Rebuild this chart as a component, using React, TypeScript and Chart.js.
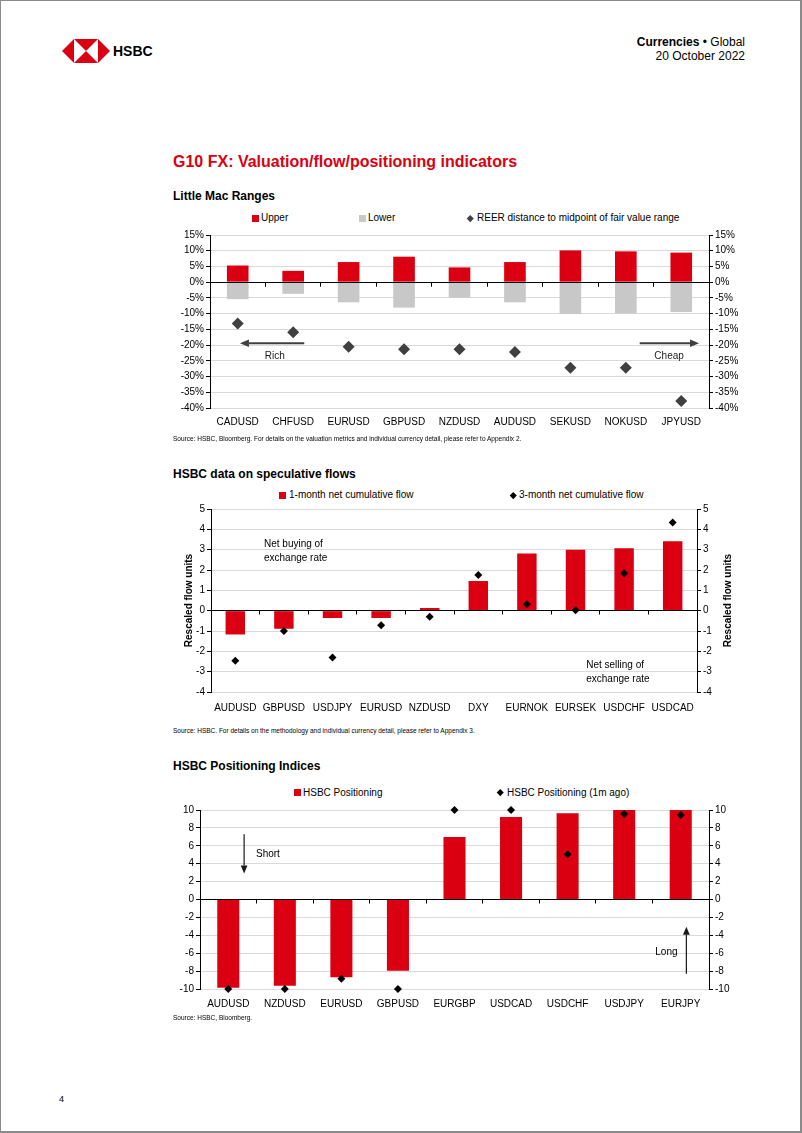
import React, { useEffect, useRef } from 'react';
import { Chart, registerables } from 'chart.js';

Chart.register(...registerables);

const FONT = "'Liberation Sans', Arial, Helvetica, sans-serif";
const RED = '#DB0011';
const GREY_BAR = '#C8C8C8';
const GRID = '#D9D9D9';

// ---------- Chart 1: Little Mac Ranges ----------
const macCategories = ['CADUSD', 'CHFUSD', 'EURUSD', 'GBPUSD', 'NZDUSD', 'AUDUSD', 'SEKUSD', 'NOKUSD', 'JPYUSD'];
const macUpper = [5.3, 3.6, 6.4, 8.1, 4.7, 6.4, 10.1, 9.8, 9.4];
const macLower = [-5.4, -3.7, -6.4, -8.1, -4.9, -6.4, -10.1, -9.9, -9.5];
const macReer = [-13.1, -15.9, -20.5, -21.3, -21.3, -22.2, -27.2, -27.2, -37.8];
const macSeries = ['Upper', 'Lower', 'REER distance to midpoint of fair value range'];
const macAxis = { min: -40, max: 15, step: 5 };

// ---------- Chart 2: speculative flows ----------
const flowCategories = ['AUDUSD', 'GBPUSD', 'USDJPY', 'EURUSD', 'NZDUSD', 'DXY', 'EURNOK', 'EURSEK', 'USDCHF', 'USDCAD'];
const flow1m = [-1.17, -0.89, -0.36, -0.36, 0.13, 1.46, 2.81, 2.99, 3.07, 3.42];
const flow3m = [-2.46, -1.0, -2.3, -0.72, -0.3, 1.76, 0.31, 0.02, 1.84, 4.33];
const flowSeries = ['1-month net cumulative flow', '3-month net cumulative flow'];
const flowAxis = { min: -4, max: 5, step: 1 };

// ---------- Chart 3: positioning ----------
const posCategories = ['AUDUSD', 'NZDUSD', 'EURUSD', 'GBPUSD', 'EURGBP', 'USDCAD', 'USDCHF', 'USDJPY', 'EURJPY'];
const posNow = [-9.85, -9.63, -8.7, -7.96, 6.99, 9.22, 9.63, 10, 10];
const pos1m = [-10, -10, -8.85, -10, 10, 10, 5.06, 9.55, 9.44];
const posSeries = ['HSBC Positioning', 'HSBC Positioning (1m ago)'];
const posAxis = { min: -10, max: 10, step: 2 };

type Ann =
  | { kind: 'arrow'; x1: number; y1: number; x2: number; y2: number; color: string; width: number; head: number }
  | { kind: 'text'; x: number; y: number; text: string; align: CanvasTextAlign; color: string };

const al = (p: number) => Math.round(p - 0.5) + 0.5;

function overlayPlugin(anns: Ann[], axisTitle?: string) {
  return {
    id: 'overlay',
    afterDatasetDraw(chart: any, args: any) {
      if (args.meta.type !== 'bar') return;
      const { ctx, chartArea } = chart;
      const xs = chart.scales.x;
      const ys = chart.scales.y;
      const y0 = al(ys.getPixelForValue(0));
      ctx.save();
      ctx.strokeStyle = '#000';
      ctx.lineWidth = 1;
      ctx.beginPath();
      ctx.moveTo(chartArea.left, y0);
      ctx.lineTo(chartArea.right, y0);
      const n = chart.data.labels.length;
      for (let i = 1; i < n; i++) {
        const px = al(xs.getPixelForValue(i - 0.5));
        ctx.moveTo(px, y0);
        ctx.lineTo(px, y0 + 4);
      }
      ctx.stroke();
      ctx.restore();
    },
    afterDatasetsDraw(chart: any) {
      const { ctx, chartArea } = chart;
      const xs = chart.scales.x;
      const ys = chart.scales.y;
      ctx.save();
      for (const a of anns) {
        if (a.kind === 'arrow') {
          const x1 = xs.getPixelForValue(a.x1), y1 = ys.getPixelForValue(a.y1);
          const x2 = xs.getPixelForValue(a.x2), y2 = ys.getPixelForValue(a.y2);
          const ang = Math.atan2(y2 - y1, x2 - x1);
          const hl = a.head, hw = a.head * 0.42;
          const bx = x2 - Math.cos(ang) * hl, by = y2 - Math.sin(ang) * hl;
          ctx.strokeStyle = a.color;
          ctx.fillStyle = a.color;
          ctx.lineWidth = a.width;
          ctx.beginPath();
          ctx.moveTo(x1, y1);
          ctx.lineTo(bx, by);
          ctx.stroke();
          ctx.beginPath();
          ctx.moveTo(x2, y2);
          ctx.lineTo(bx + Math.sin(ang) * hw, by - Math.cos(ang) * hw);
          ctx.lineTo(bx - Math.sin(ang) * hw, by + Math.cos(ang) * hw);
          ctx.closePath();
          ctx.fill();
        } else {
          ctx.fillStyle = a.color;
          ctx.font = `10px ${FONT}`;
          ctx.textAlign = a.align;
          ctx.textBaseline = 'middle';
          ctx.fillText(a.text, xs.getPixelForValue(a.x), ys.getPixelForValue(a.y));
        }
      }
      if (axisTitle) {
        ctx.font = `bold 10px ${FONT}`;
        ctx.fillStyle = '#000';
        ctx.textAlign = 'center';
        ctx.textBaseline = 'middle';
        const cy = (chartArea.top + chartArea.bottom) / 2;
        for (const cx of [chartArea.left - 22, chartArea.right + 31]) {
          ctx.save();
          ctx.translate(cx, cy);
          ctx.rotate(-Math.PI / 2);
          ctx.fillText(axisTitle, 0, 0);
          ctx.restore();
        }
      }
      ctx.restore();
    },
  };
}

function yScale(axis: { min: number; max: number; step: number }, position: 'left' | 'right', width: number, showGrid: boolean, fmt: (v: number) => string) {
  return {
    type: 'linear',
    position,
    min: axis.min,
    max: axis.max,
    afterFit: (s: any) => { s.width = width; },
    ticks: {
      stepSize: axis.step,
      color: '#000',
      font: { size: 10, family: FONT },
      padding: 2,
      callback: (v: any) => fmt(Number(v)),
    },
    grid: {
      display: true,
      drawOnChartArea: showGrid,
      drawTicks: true,
      tickLength: 4,
      tickColor: '#000',
      lineWidth: 1,
      color: (c: any) => (c.tick && c.tick.value === 0 ? '#000' : GRID),
    },
    border: { display: true, color: '#000', width: 1 },
  };
}

function xScale(height: number, pad: number) {
  return {
    type: 'category',
    offset: true,
    afterFit: (s: any) => { s.height = height; },
    grid: { display: false, drawTicks: false },
    border: { display: false },
    ticks: { color: '#000', font: { size: 10, family: FONT }, padding: pad, maxRotation: 0, autoSkip: false },
  };
}

function baseOptions(padTop: number, scales: any) {
  return {
    responsive: false,
    animation: false,
    events: [],
    layout: { padding: { top: padTop, left: 0, right: 0, bottom: 0 } },
    plugins: { legend: { display: false }, tooltip: { enabled: false } },
    scales,
  };
}

const pct = (v: number) => `${v}%`;
const num = (v: number) => `${v}`;

function useChart(ref: React.RefObject<HTMLCanvasElement>, build: () => any) {
  useEffect(() => {
    if (!ref.current) return;
    const chart = new Chart(ref.current, build());
    return () => chart.destroy();
  }, []);
}

const Txt = ({ x, y, size = 10, bold = false, color = '#000', align = 'left', children }: any) => {
  const tx = align === 'left' ? '0' : align === 'right' ? '-100%' : '-50%';
  return (
    <div
      style={{
        position: 'absolute',
        left: x,
        top: y,
        transform: `translate(${tx}, -50%)`,
        fontFamily: FONT,
        fontSize: size,
        fontWeight: bold ? 700 : 400,
        color,
        whiteSpace: 'nowrap',
        lineHeight: 1.15,
      }}
    >
      {children}
    </div>
  );
};

const Sq = ({ cx, cy, color, size = 7 }: any) => (
  <div style={{ position: 'absolute', left: cx - size / 2, top: cy - size / 2, width: size, height: size, background: color }} />
);
const Dm = ({ cx, cy, color, size = 4.5 }: any) => (
  <div style={{ position: 'absolute', left: cx - size / 2, top: cy - size / 2, width: size, height: size, background: color, transform: 'rotate(45deg)' }} />
);

export default function App() {
  const c1 = useRef<HTMLCanvasElement>(null);
  const c2 = useRef<HTMLCanvasElement>(null);
  const c3 = useRef<HTMLCanvasElement>(null);

  useChart(c1, () => ({
    type: 'bar',
    data: {
      labels: macCategories,
      datasets: [
        { type: 'line', label: macSeries[2], data: macReer, showLine: false, pointStyle: 'rectRot', pointRadius: 6, pointHoverRadius: 6, pointBackgroundColor: '#404040', pointBorderWidth: 0, borderColor: '#404040', backgroundColor: '#404040', order: 0, clip: false },
        { type: 'bar', label: macSeries[0], data: macUpper, backgroundColor: RED, grouped: false, barPercentage: 0.39, categoryPercentage: 1, order: 1 },
        { type: 'bar', label: macSeries[1], data: macLower, backgroundColor: GREY_BAR, grouped: false, barPercentage: 0.39, categoryPercentage: 1, order: 1 },
      ],
    },
    options: baseOptions(9, {
      x: xScale(28, 8),
      y: yScale(macAxis, 'left', 49, true, pct),
      y2: yScale(macAxis, 'right', 32, false, pct),
    }),
    plugins: [
      overlayPlugin([
        { kind: 'arrow', x1: 1.2, y1: -19.4, x2: 0.04, y2: -19.4, color: '#404040', width: 2, head: 9 },
        { kind: 'text', x: 0.67, y: -23.5, text: 'Rich', align: 'center', color: '#1a1a1a' },
        { kind: 'arrow', x1: 7.25, y1: -19.4, x2: 8.32, y2: -19.4, color: '#404040', width: 2, head: 9 },
        { kind: 'text', x: 7.78, y: -23.4, text: 'Cheap', align: 'center', color: '#1a1a1a' },
      ]),
    ],
  }));

  useChart(c2, () => ({
    type: 'bar',
    data: {
      labels: flowCategories,
      datasets: [
        { type: 'line', label: flowSeries[1], data: flow3m, showLine: false, pointStyle: 'rectRot', pointRadius: 4, pointHoverRadius: 4, pointBackgroundColor: '#000', pointBorderWidth: 0, borderColor: '#000', backgroundColor: '#000', order: 0, clip: false },
        { type: 'bar', label: flowSeries[0], data: flow1m, backgroundColor: RED, barPercentage: 0.4, categoryPercentage: 1, order: 1 },
      ],
    },
    options: baseOptions(8, {
      x: xScale(24, 10),
      y: yScale(flowAxis, 'left', 50, true, num),
      y2: yScale(flowAxis, 'right', 44, false, num),
    }),
    plugins: [
      overlayPlugin(
        [
          { kind: 'text', x: 0.59, y: 3.27, text: 'Net buying of', align: 'left', color: '#000' },
          { kind: 'text', x: 0.59, y: 2.58, text: 'exchange rate', align: 'left', color: '#000' },
          { kind: 'text', x: 7.22, y: -2.7, text: 'Net selling of', align: 'left', color: '#000' },
          { kind: 'text', x: 7.22, y: -3.38, text: 'exchange rate', align: 'left', color: '#000' },
        ],
        'Rescaled flow units'
      ),
    ],
  }));

  useChart(c3, () => ({
    type: 'bar',
    data: {
      labels: posCategories,
      datasets: [
        { type: 'line', label: posSeries[1], data: pos1m, showLine: false, pointStyle: 'rectRot', pointRadius: 4, pointHoverRadius: 4, pointBackgroundColor: '#000', pointBorderWidth: 0, borderColor: '#000', backgroundColor: '#000', order: 0, clip: false },
        { type: 'bar', label: posSeries[0], data: posNow, backgroundColor: RED, barPercentage: 0.39, categoryPercentage: 1, order: 1 },
      ],
    },
    options: baseOptions(9, {
      x: xScale(27, 9),
      y: yScale(posAxis, 'left', 39, true, num),
      y2: yScale(posAxis, 'right', 32, false, num),
    }),
    plugins: [
      overlayPlugin([
        { kind: 'arrow', x1: 0.28, y1: 7.3, x2: 0.28, y2: 2.9, color: '#1a1a1a', width: 1.2, head: 8 },
        { kind: 'text', x: 0.49, y: 5.1, text: 'Short', align: 'left', color: '#000' },
        { kind: 'arrow', x1: 8.1, y1: -8.3, x2: 8.1, y2: -3.05, color: '#1a1a1a', width: 1.2, head: 8 },
        { kind: 'text', x: 7.55, y: -5.85, text: 'Long', align: 'left', color: '#000' },
      ]),
    ],
  }));

  return (
    <div
      style={{
        position: 'absolute',
        left: 0,
        top: 0,
        width: 802,
        height: 1133,
        boxSizing: 'border-box',
        borderLeft: '1px solid #8a8a8a',
        borderTop: '1px solid #8a8a8a',
        borderRight: '2px solid #8a8a8a',
        borderBottom: '2px solid #8a8a8a',
        background: '#fff',
        overflow: 'hidden',
      }}
    >
      <div style={{ position: 'absolute', left: 0, top: 0, width: 802, height: 1133 }}>
        {/* header */}
        <svg style={{ position: 'absolute', left: 61, top: 38 }} width={48} height={24} viewBox="0 0 48 24">
          <polygon points="0,12 12,0 12,24" fill={RED} />
          <polygon points="48,12 36,0 36,24" fill={RED} />
          <polygon points="12,0 36,0 24,12" fill={RED} />
          <polygon points="12,24 36,24 24,12" fill={RED} />
        </svg>
        <Txt x={112} y={50} size={14} bold>HSBC</Txt>
        <Txt x={744} y={41.5} size={12} align="right">
          <b>Currencies</b> • Global
        </Txt>
        <Txt x={744} y={55.5} size={12} align="right">20 October 2022</Txt>

        <Txt x={172} y={160.5} size={16} bold color={RED}>G10 FX: Valuation/flow/positioning indicators</Txt>

        {/* chart 1 */}
        <Txt x={172} y={196} size={12} bold>Little Mac Ranges</Txt>
        <Sq cx={254} cy={217} color={RED} />
        <Txt x={260} y={217}>{macSeries[0]}</Txt>
        <Sq cx={361} cy={217} color={GREY_BAR} />
        <Txt x={367} y={217}>{macSeries[1]}</Txt>
        <Dm cx={469} cy={217} color="#404040" />
        <Txt x={476} y={217}>{macSeries[2]}</Txt>
        <canvas ref={c1} width={580} height={210} style={{ position: 'absolute', left: 160, top: 225 }} />
        <Txt x={172} y={438} size={6.5}>
          Source: HSBC, Bloomberg. For details on the valuation metrics and individual currency detail, please refer to Appendix 2.
        </Txt>

        {/* chart 2 */}
        <Txt x={172} y={474} size={12} bold>HSBC data on speculative flows</Txt>
        <Sq cx={281} cy={494} color={RED} />
        <Txt x={288} y={494}>{flowSeries[0]}</Txt>
        <Dm cx={512} cy={494} color="#000" />
        <Txt x={518} y={494}>{flowSeries[1]}</Txt>
        <canvas ref={c2} width={580} height={215} style={{ position: 'absolute', left: 160, top: 500 }} />
        <Txt x={172} y={730} size={6.5}>
          Source: HSBC. For details on the methodology and individual currency detail, please refer to Appendix 3.
        </Txt>

        {/* chart 3 */}
        <Txt x={172} y={765.7} size={12} bold>HSBC Positioning Indices</Txt>
        <Sq cx={296} cy={791.7} color={RED} />
        <Txt x={302} y={791.7}>{posSeries[0]}</Txt>
        <Dm cx={499} cy={791.7} color="#000" />
        <Txt x={506} y={791.7}>{posSeries[1]}</Txt>
        <canvas ref={c3} width={580} height={215} style={{ position: 'absolute', left: 160, top: 800 }} />
        <Txt x={172} y={1016.7} size={6.5}>Source: HSBC, Bloomberg.</Txt>

        <Txt x={58} y={1098} size={9}>4</Txt>
      </div>
    </div>
  );
}
